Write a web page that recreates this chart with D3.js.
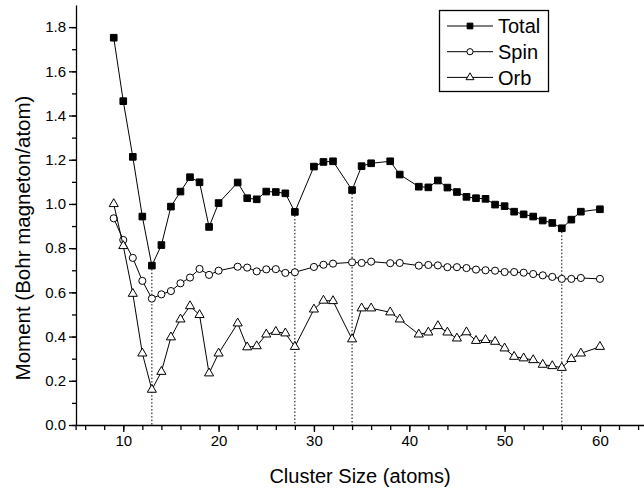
<!DOCTYPE html>
<html>
<head>
<meta charset="utf-8">
<script src="https://cdn.jsdelivr.net/npm/d3@7"></script>
<style>
  body { margin: 0; background: #fff; }
  svg { display: block; font-family: "Liberation Sans", Arial, sans-serif; }
  .axis path, .axis line { stroke: #000; stroke-width: 1.3px; }
  .axis text { font-size: 15px; fill: #000; }
  .series { fill: none; stroke: #000; stroke-width: 1px; }
  .drop { stroke: #000; stroke-width: 1px; stroke-dasharray: 1.5, 2; }
</style>
</head>
<body>
<svg id="chart" width="644" height="493"></svg>
<script>
var sizes = [9, 10, 11, 12, 13, 14, 15, 16, 17, 18, 19, 20,
    22, 23, 24, 25, 26, 27, 28, 30, 31, 32, 34, 35, 36, 38, 39,
    41, 42, 43, 44, 45, 46, 47, 48, 49, 50, 51, 52, 53, 54, 55, 56, 57, 58, 60];
var total = [1.752, 1.465, 1.213, 0.943, 0.721, 0.814, 0.988, 1.056, 1.121, 1.098, 0.896, 1.004,
    1.097, 1.026, 1.021, 1.056, 1.054, 1.048, 0.964, 1.169, 1.190, 1.193, 1.063, 1.171, 1.184, 1.193, 1.133,
    1.078, 1.075, 1.106, 1.074, 1.054, 1.032, 1.026, 1.023, 0.997, 0.990, 0.965, 0.953, 0.943, 0.925, 0.914, 0.890, 0.929, 0.965, 0.976];
var spin = [0.935, 0.837, 0.756, 0.652, 0.572, 0.591, 0.606, 0.641, 0.667, 0.706, 0.679, 0.698,
    0.716, 0.712, 0.695, 0.704, 0.705, 0.688, 0.691, 0.715, 0.725, 0.730, 0.736, 0.733, 0.739, 0.732, 0.733,
    0.721, 0.724, 0.722, 0.714, 0.714, 0.710, 0.703, 0.700, 0.698, 0.692, 0.692, 0.689, 0.683, 0.677, 0.670, 0.661, 0.661, 0.665, 0.661];
var orb = [1.000, 0.810, 0.594, 0.324, 0.160, 0.241, 0.397, 0.478, 0.538, 0.498, 0.234, 0.324,
    0.460, 0.352, 0.357, 0.410, 0.422, 0.415, 0.354, 0.523, 0.563, 0.561, 0.388, 0.528, 0.528, 0.510, 0.478,
    0.410, 0.419, 0.448, 0.419, 0.392, 0.420, 0.381, 0.385, 0.377, 0.347, 0.309, 0.302, 0.294, 0.273, 0.267, 0.259, 0.299, 0.324, 0.354];
var dropSizes = [13, 28, 34, 56];
var seriesNames = ["Total", "Spin", "Orb"];
var xMajorTicks = [10, 20, 30, 40, 50, 60];
var yMajorTicks = [0, 0.2, 0.4, 0.6, 0.8, 1.0, 1.2, 1.4, 1.6, 1.8];

var svg = d3.select("#chart");

var xScale = d3.scaleLinear().domain([5, 65]).range([75.6, 647.6]);
var yScale = d3.scaleLinear().domain([0, 1.9]).range([425, 5]);

var xMinor = d3.range(6, 65, 2);
var yMinor = d3.range(0, 1.85, 0.1);

// minor ticks first, then labelled majors on top
svg.append("g")
    .attr("class", "x axis")
    .attr("transform", "translate(0, 425)")
    .call(d3.axisBottom(xScale).tickValues(xMinor).tickSize(5).tickFormat(""));
svg.append("g")
    .attr("class", "x axis")
    .attr("transform", "translate(0, 425)")
    .call(d3.axisBottom(xScale).tickValues(xMajorTicks).tickSize(7).tickPadding(3).tickSizeOuter(0))
    .call(function(g) { g.select(".domain").remove(); });

svg.append("g")
    .attr("class", "y axis")
    .attr("transform", "translate(76, 0)")
    .call(d3.axisLeft(yScale).tickValues(yMinor).tickSize(4).tickFormat("").tickSizeOuter(0));
svg.append("g")
    .attr("class", "y axis")
    .attr("transform", "translate(76, 0)")
    .call(d3.axisLeft(yScale).tickValues(yMajorTicks).tickSize(7).tickPadding(3).tickFormat(d3.format(".1f")))
    .call(function(g) { g.select(".domain").remove(); });

svg.append("text")
    .attr("x", 360)
    .attr("y", 483)
    .style("text-anchor", "middle")
    .style("font-size", "20px")
    .text("Cluster Size (atoms)");

svg.append("text")
    .attr("transform", "translate(30, 238) rotate(-90)")
    .style("text-anchor", "middle")
    .style("font-size", "20.5px")
    .text("Moment (Bohr magneton/atom)");

// dotted drop lines from the total curve
svg.selectAll("line.drop")
    .data(dropSizes)
    .enter().append("line")
        .attr("class", "drop")
        .attr("x1", function(d) { return xScale(d); })
        .attr("x2", function(d) { return xScale(d); })
        .attr("y1", function(d) { return yScale(total[sizes.indexOf(d)]); })
        .attr("y2", yScale(0));

var line = d3.line()
    .x(function(d) { return xScale(d[0]); })
    .y(function(d) { return yScale(d[1]); });

var series = [
  {name: "Total", values: total, symbol: d3.symbolSquare, size: 44, fill: "#000"},
  {name: "Spin", values: spin, symbol: d3.symbolCircle, size: 40, fill: "#fff"},
  {name: "Orb", values: orb, symbol: d3.symbolTriangle, size: 36, fill: "#fff"}
];

series.forEach(function(s) {
  var pts = sizes.map(function(n, i) { return [n, s.values[i]]; });
  svg.append("path")
      .attr("class", "series")
      .attr("d", line(pts));
  svg.selectAll("path.m-" + s.name)
      .data(pts)
      .enter().append("path")
          .attr("class", "m-" + s.name)
          .attr("transform", function(d) {
              return `translate(${xScale(d[0])}, ${yScale(d[1])})`; })
          .attr("d", d3.symbol().type(s.symbol).size(s.size))
          .attr("fill", s.fill)
          .attr("stroke", "#000")
          .attr("stroke-width", 1);
});

// legend
var legend = svg.append("g").attr("class", "legend");
legend.append("rect")
    .attr("x", 439.5)
    .attr("y", 10.5)
    .attr("width", 109)
    .attr("height", 81)
    .attr("fill", "#fff")
    .attr("stroke", "#000")
    .attr("stroke-width", 1.3);

var item = legend.selectAll("g.item")
    .data(series)
    .enter().append("g")
        .attr("class", "item")
        .attr("transform", function(d, i) { return `translate(0, ${26 + i * 25.7})`; });

item.append("line")
    .attr("x1", 447)
    .attr("x2", 493)
    .attr("y1", 0)
    .attr("y2", 0)
    .attr("stroke", "#000");
item.append("path")
    .attr("transform", "translate(470, 0)")
    .attr("d", function(d) { return d3.symbol().type(d.symbol).size(d.size * 0.75)(); })
    .attr("fill", function(d) { return d.fill; })
    .attr("stroke", "#000");
item.append("text")
    .attr("x", 498)
    .attr("dy", "0.36em")
    .style("font-size", "20px")
    .text(function(d) { return d.name; });
</script>
</body>
</html>
